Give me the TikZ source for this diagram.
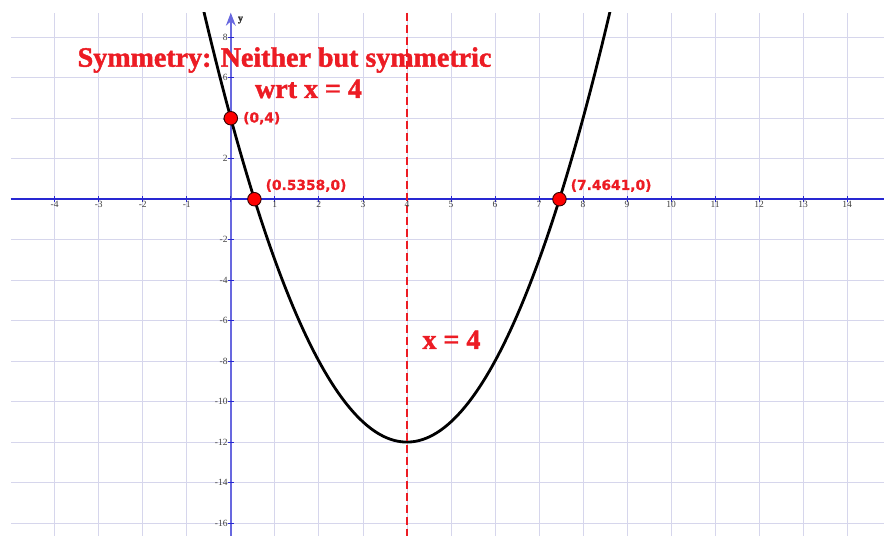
\documentclass[tikz,border=0pt]{standalone}
\usepackage{fontspec}
\setmainfont{Liberation Serif}
\newfontfamily\ptfont{DejaVu Sans Bold}[FakeBold=0.8]
\newfontfamily\titlefont{Liberation Serif Bold}[FakeBold=1.5]
\usetikzlibrary{arrows.meta,positioning}
\definecolor{symred}{RGB}{236,28,36}
\definecolor{axisblue}{RGB}{40,40,210}
\definecolor{gridlav}{RGB}{214,214,236}

\begin{document}
\begin{tikzpicture}[x=44.03pt,y=20.24pt,>=Stealth,
  gridline/.style={draw=gridlav,line width=0.8pt},
  axisline/.style={draw=axisblue,line width=1.6pt},
  ticklbl/.style={font=\fontsize{9.5}{10}\selectfont,text=black!75,inner sep=1pt},
  pt/.style={circle,draw=black!80!red,line width=0.9pt,fill=red,minimum size=13.5pt,inner sep=0pt},
  ptlbl/.style={font=\ptfont\fontsize{13.8}{16}\selectfont,text=symred,inner sep=1pt},
  bigred/.style={font=\titlefont\fontsize{28}{32}\selectfont,text=symred,inner sep=0pt}]
\useasboundingbox (-5.242,9.842) rectangle (14.835,-16.64);
\coordinate (symtop) at (4,9.214);\coordinate (symbot) at (4,-16.7);
\coordinate (xleft) at (-5,0);\coordinate (xright) at (14.9,0);
\coordinate (ybot) at (0,-16.7);\coordinate (ytop) at (0,9.214);
\begin{scope}
\clip (-5,9.214) rectangle (14.9,-16.7);
\draw[gridline] (-4.99,-16.7) grid[xstep=1,ystep=2] (14.9,9.214);
\draw[axisline] (xleft)--(xright);
\draw[draw=axisblue!70!white,line width=2.2pt,->] (ybot)--(ytop);
\foreach \x in {-4,...,14} \draw[axisblue,line width=0.8pt] (\x,0.15)--(\x,-0.15);
\foreach \y in {-16,-14,...,8} \draw[axisblue,line width=0.8pt] (-0.07,\y)--(0.07,\y);
\draw[black,line width=2.8pt,domain=-0.75:8.75,samples=120] plot (\x,{\x*\x-8*\x+4});
\draw[symred,line width=2.4pt,dash pattern=on 8pt off 4pt] (symtop)--(symbot);
\end{scope}
% tick labels
\foreach \x in {-4,...,-1,1,2,...,14} \node[ticklbl,below=1pt] (xl\x) at (\x,0) {\x};
\foreach \y in {-16,-14,...,-2,2,4,...,8} \node[ticklbl,left=2pt] (yl\y) at (0,\y) {\y};
\node[font=\titlefont\fontsize{10}{11}\selectfont,text=black!80] (ylab) at (0.22,8.85) {y};
% points
\node[pt] (p04) at (0,4) {};
\node[pt] (proot1) at (0.5358,0) {};
\node[pt] (proot2) at (7.4641,0) {};
\node[ptlbl,right=4pt of p04] (l04) {(0,4)};
\node[ptlbl,above right=1pt and 5pt of proot1] (lroot1) {(0.5358,0)};
\node[ptlbl,above right=1pt and 5pt of proot2] (lroot2) {(7.4641,0)};
% texts
\node[bigred,anchor=base] (title) at (1.22,6.546) {Symmetry: Neither but symmetric};
\node[bigred,anchor=base] (wrt) at (1.765,5.0) {wrt x = 4};
\node[bigred,anchor=base] (xeq) at (5.012,-7.40) {x = 4};
\end{tikzpicture}
\end{document}
